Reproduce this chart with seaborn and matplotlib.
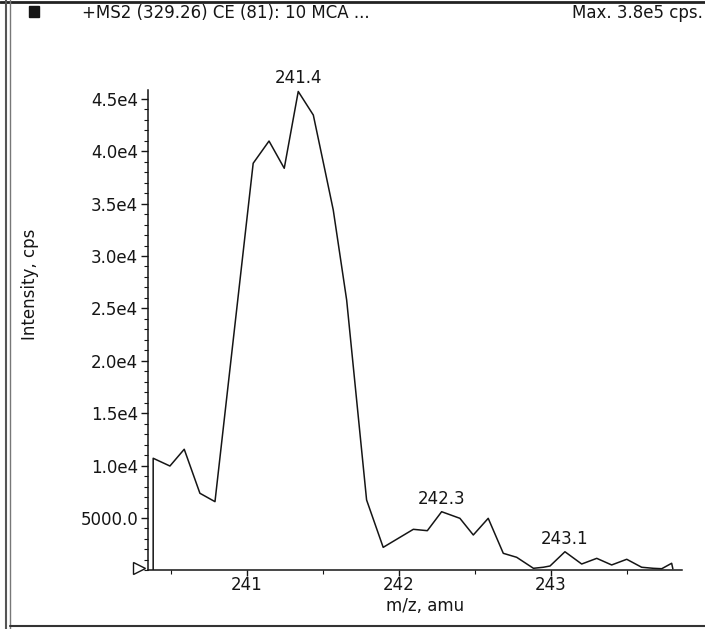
import numpy as np
import pandas as pd
import matplotlib
matplotlib.use('Agg')
import matplotlib.pyplot as plt
import seaborn as sns
from matplotlib.lines import Line2D
from matplotlib.patches import Rectangle
from matplotlib.ticker import MultipleLocator

# Spectrum points (m/z, intensity in cps)
mz = [240.386, 240.386, 240.496, 240.590, 240.693, 240.792, 241.043, 241.147,
      241.247, 241.339, 241.438, 241.514, 241.569, 241.657, 241.788, 241.897,
      242.095, 242.187, 242.281, 242.401, 242.489, 242.587, 242.686, 242.774,
      242.884, 242.949, 242.993, 243.091, 243.201, 243.300, 243.398, 243.497,
      243.595, 243.671, 243.727, 243.792, 243.800]
intensity = [0, 10700, 9960, 11560, 7360, 6560, 38850, 40970,
             38370, 45700, 43450, 38210, 34390, 25800, 6720, 2200,
             3920, 3790, 5600, 4970, 3380, 4970, 1630, 1250,
             200, 300, 420, 1780, 610, 1150, 520, 1060,
             300, 200, 160, 680, 150]

# Peak labels
peak_mz = [241.339, 242.281, 243.091]
peak_int = [45700, 5600, 1780]
peak_text = ["241.4", "242.3", "243.1"]

y_ticks = [5000, 10000, 15000, 20000, 25000, 30000, 35000, 40000, 45000]
y_tick_labels = ["5000.0", "1.0e4", "1.5e4", "2.0e4", "2.5e4", "3.0e4", "3.5e4", "4.0e4", "4.5e4"]
x_ticks = [241, 242, 243]

header_left = "+MS2 (329.26) CE (81): 10 MCA ..."
header_right = "Max. 3.8e5 cps."

df = pd.DataFrame({'mz': mz, 'intensity': intensity})

sns.set_style("white")
plt.rcParams['font.family'] = ['DejaVu Sans']
fs = 12
ink = '#151515'

W, H = 705, 629
fig = plt.figure(figsize=(W / 100, H / 100), dpi=100)
ax = fig.add_axes([148 / W, 1 - 570.4 / H, (682 - 148) / W, (570.4 - 90) / H])

sns.lineplot(data=df, x='mz', y='intensity', ax=ax, sort=False, estimator=None,
             color=ink, linewidth=1.1)

ax.set_xlim(240.352, 243.86)
ax.set_ylim(0, 45840)
ax.set_xticks(x_ticks)
ax.set_xticklabels([str(t) for t in x_ticks], fontsize=fs)
ax.xaxis.set_minor_locator(MultipleLocator(0.5))
ax.set_yticks(y_ticks)
ax.set_yticklabels(y_tick_labels, fontsize=fs)
ax.yaxis.set_minor_locator(MultipleLocator(1000))
ax.tick_params(axis='y', which='major', direction='out', length=5, width=1,
               color=ink, labelcolor=ink, pad=2, left=True)
ax.tick_params(axis='x', which='major', direction='out', length=4, width=1,
               color=ink, labelcolor=ink, pad=0, bottom=True)
ax.tick_params(axis='both', which='minor', direction='out', length=3, width=0.8,
               color=ink, left=True, bottom=True)
ax.set_xlabel("")
ax.set_ylabel("")
sns.despine(ax=ax)
for s in ['left', 'bottom']:
    ax.spines[s].set_color(ink)
    ax.spines[s].set_linewidth(1.1)

# peak annotations
for px, py, t in zip(peak_mz, peak_int, peak_text):
    ax.annotate(t, (px, py), xytext=(0, 3), textcoords='offset points',
                ha='center', va='bottom', fontsize=fs, color=ink)

# origin marker
ax.plot([-0.016], [0.005], marker='>', markersize=8, markerfacecolor='white',
        markeredgecolor=ink, transform=ax.transAxes, clip_on=False)

# axis titles
fig.text(30 / W, 1 - 284 / H, "Intensity, cps", rotation=90, ha='center', va='center',
         fontsize=fs, color=ink)
fig.text(425 / W, 1 - 606 / H, "m/z, amu", ha='center', va='center',
         fontsize=fs, color=ink)

# header
fig.add_artist(Rectangle((29 / W, 1 - 17 / H), 10 / W, 11 / H, transform=fig.transFigure,
                         color=ink))
fig.text(82 / W, 1 - 13.5 / H, header_left, ha='left', va='center', fontsize=12, color=ink)
fig.text(703 / W, 1 - 13.5 / H, header_right, ha='right', va='center', fontsize=12, color=ink)

# scan frame
fig.add_artist(Line2D([0, 1], [1 - 1.5 / H, 1 - 1.5 / H], transform=fig.transFigure,
                      color='#222222', linewidth=2))
fig.add_artist(Line2D([6 / W, 6 / W], [0, 1], transform=fig.transFigure,
                      color='#555555', linewidth=1.5))
fig.add_artist(Line2D([10 / W, 10 / W], [0, 1], transform=fig.transFigure,
                      color='#777777', linewidth=1.0))
fig.add_artist(Line2D([10 / W, 1], [1 - 626 / H, 1 - 626 / H], transform=fig.transFigure,
                      color='#333333', linewidth=1.5))

fig.savefig('out.png', dpi=100)
